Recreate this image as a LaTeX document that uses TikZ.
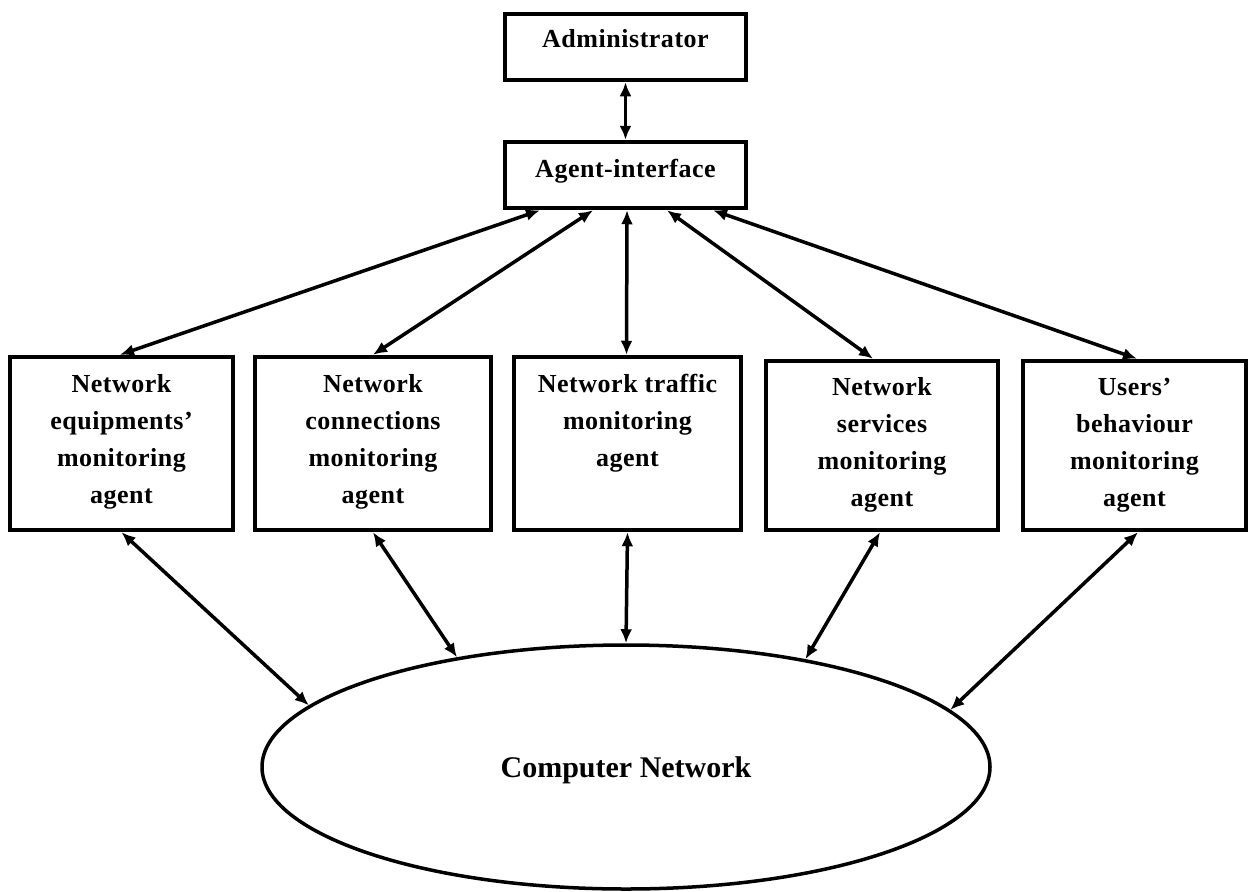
\documentclass[tikz,border=0pt]{standalone}
\usepackage{fontspec}
\setmainfont{Liberation Serif}[LetterSpace=2.0]
\usetikzlibrary{arrows.meta,shapes.geometric}

% text block hanging from the top edge of a box
\newcommand\toplines[3]{\parbox[c][#1][t]{210pt}{\centering\fontsize{26}{37}\selectfont\bfseries\rule{0pt}{#2}#3\par}}

\tikzset{
  frame/.style={draw, line width=4.5pt, inner sep=0pt, rectangle},
  link/.style={line width=3.5pt, {Latex[length=14pt,width=12pt]}-{Latex[length=14pt,width=12pt]}},
}

\begin{document}
\begin{tikzpicture}[x=1pt,y=-1pt]
\useasboundingbox (0,0) rectangle (1251,892);

% top level
\node[frame, minimum width=241pt, minimum height=66pt] (adm) at (625.5,47)
  {\toplines{66pt}{33pt}{Administrator}};
\node[frame, minimum width=241pt, minimum height=66pt] (ai) at (625.5,175)
  {\toplines{66pt}{35pt}{Agent-interface}};

% monitoring agents
\node[frame, minimum width=223pt, minimum height=173pt] (b1) at (121.5,443.5)
  {\toplines{173pt}{35pt}{Network\\equipments'\\monitoring\\agent}};
\node[frame, minimum width=236pt, minimum height=173pt] (b2) at (373,443.5)
  {\toplines{173pt}{35pt}{Network\\connections\\monitoring\\agent}};
\node[frame, minimum width=227pt, minimum height=173pt] (b3) at (627.5,443.5)
  {\toplines{173pt}{35pt}{Network traffic\\monitoring\\agent}};
\node[frame, minimum width=232pt, minimum height=169pt] (b4) at (882,445.5)
  {\toplines{169pt}{34pt}{Network\\services\\monitoring\\agent}};
\node[frame, minimum width=223pt, minimum height=169pt] (b5) at (1134.5,445.5)
  {\toplines{169pt}{34pt}{Users'\\behaviour\\monitoring\\agent}};

% the network itself
\node[draw, ellipse, line width=3.5pt, inner sep=0pt, minimum width=728pt, minimum height=244pt,
      text depth=0pt, font=\fontsize{30}{36}\selectfont\bfseries\addfontfeature{LetterSpace=0}]
  (net) at (626,767) {Computer Network};

% connectors
\draw[link] (adm.south) -- (ai.north);

\draw[link] ([xshift=-85.5pt]ai.south) -- ([xshift=-1.5pt]b1.north);
\draw[link] ([xshift=-32.5pt]ai.south) -- (b2.north);
\draw[link] ([xshift=1.5pt]ai.south) -- ([xshift=-1pt]b3.north);
\draw[link] ([xshift=41.5pt]ai.south) -- ([xshift=-9pt]b4.north);
\draw[link] ([xshift=87.5pt]ai.south) -- ([xshift=2.5pt]b5.north);

\draw[link] (b1.south) -- (net.169);
\draw[link] (b2.south) -- (net.147.5);
\draw[link] (b3.south) -- (net.90);
\draw[link] ([xshift=-2pt]b4.south) -- (net.31.6);
\draw[link] ([xshift=3.5pt]b5.south) -- (net.10.4);
\end{tikzpicture}
\end{document}
